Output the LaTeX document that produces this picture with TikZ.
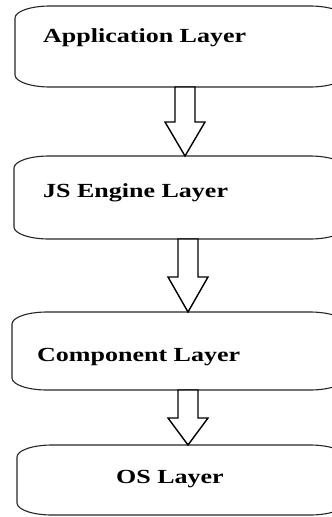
\documentclass[tikz,border=0pt]{standalone}
\usepackage{fontspec}
\setmainfont{Liberation Serif}[FakeStretch=1.3]
\usepackage{tikz}
\usetikzlibrary{positioning, calc}

\newcommand{\layeroutline}[1]{%
    \draw[boxline] ([xshift=35]#1.north west) -- ([xshift=-35]#1.north east)
        arc[start angle=90, end angle=0, x radius=35, y radius=12]
        -- ([yshift=12]#1.south east)
        arc[start angle=0, end angle=-90, x radius=35, y radius=12]
        -- ([xshift=35]#1.south west)
        arc[start angle=270, end angle=180, x radius=35, y radius=12]
        -- ([yshift=-12]#1.north west)
        arc[start angle=180, end angle=90, x radius=35, y radius=12] -- cycle;}
\newcommand{\layerarrow}[4]{%
    \coordinate (ax#2) at (#4,0);
    \draw[hollowarrow] ($(#2.south -| ax#2)+(-10,0)$) -- ($(#3.north -| ax#2)+(-10,#1)$)
        -- ++(-10,0) -- (#3.north -| ax#2) -- ($(#3.north -| ax#2)+(20,#1)$)
        -- ++(-10,0) -- ($(#2.south -| ax#2)+(10,0)$) -- cycle;}

\begin{document}
\begin{tikzpicture}[
        x=1pt, y=1pt,
        layer/.style={rectangle, inner sep=0pt, outer sep=0pt},
        boxline/.style={line width=1.1pt, black!85},
        hollowarrow/.style={line width=1.4pt, black, fill=white, line join=miter},
        layertext/.style={font=\fontsize{20}{24}\selectfont\bfseries, inner sep=0pt, anchor=base west},
    ]
    \useasboundingbox (0,0) rectangle (332,-517);

    \node[layer, minimum width=330, minimum height=81, anchor=north west] (app) at (15,-6) {};
    \node[layer, minimum width=331, minimum height=83, anchor=north west] (js) at (14,-156) {};
    \node[layer, minimum width=333, minimum height=78, anchor=north west] (comp) at (12,-312) {};
    \node[layer, minimum width=328, minimum height=70, anchor=north west] (os) at (17,-445) {};

    \layeroutline{app}
    \layeroutline{js}
    \layeroutline{comp}
    \layeroutline{os}

    \node[layertext] (apptext) at ([shift={(28,-36)}]app.north west) {Application Layer};
    \node[layertext] (jstext) at ([shift={(29,-41)}]js.north west) {JS Engine Layer};
    \node[layertext] (comptext) at ([shift={(25,-49)}]comp.north west) {Component Layer};
    \node[layertext, anchor=base] (ostext) at (170,-483) {OS Layer};

    \layerarrow{34}{app}{js}{185}
    \layerarrow{35}{js}{comp}{188}
    \layerarrow{27}{comp}{os}{188}

\end{tikzpicture}
\end{document}
